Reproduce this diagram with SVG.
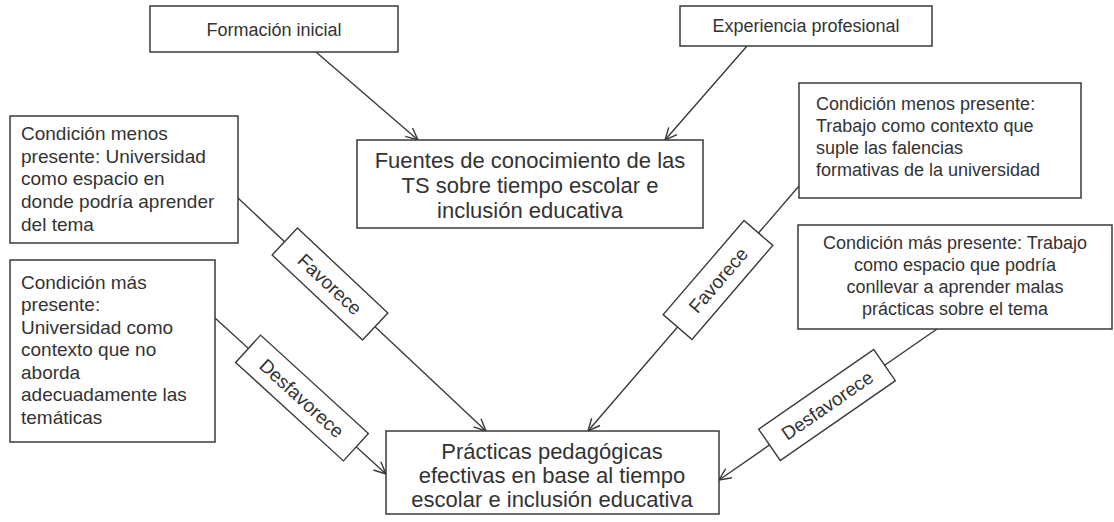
<svg xmlns="http://www.w3.org/2000/svg" width="1114" height="522" viewBox="0 0 1114 522">
<style>
.box{fill:#fff;stroke:#3a3a3a;stroke-width:1.5}
.t{font-family:"Liberation Sans",Arial,sans-serif;fill:#333}
.s{font-size:19px}
.r{font-size:18px}
.h{font-size:18px}
.m{font-size:22px}
.l{font-size:19px}
.c{text-anchor:middle}
.edge{stroke:#3a3a3a;stroke-width:1.4;fill:none}
.lab{fill:#fff;stroke:#3a3a3a;stroke-width:1.4}
</style>
<defs>
<marker id="arr" viewBox="0 0 14 14" refX="13" refY="7" markerWidth="14" markerHeight="14" markerUnits="userSpaceOnUse" orient="auto">
<path d="M1,1.5 L13,7 L1,12.5" fill="none" stroke="#3a3a3a" stroke-width="1.4"/>
</marker>
</defs>
<rect width="1114" height="522" fill="#fff"/>

<g id="connectors">
  <g id="e1"><line class="edge" x1="316" y1="52" x2="418" y2="140" marker-end="url(#arr)"/></g>
  <g id="e2"><line class="edge" x1="747" y1="46" x2="665" y2="140" marker-end="url(#arr)"/></g>
  <g id="e3">
    <line class="edge" x1="238" y1="198" x2="486" y2="431" marker-end="url(#arr)"/>
    <g transform="translate(330,284) rotate(43.2)">
      <rect class="lab" x="-62" y="-18.5" width="124" height="37"/>
      <text class="t l c" x="0" y="7">Favorece</text>
    </g>
  </g>
  <g id="e4">
    <line class="edge" x1="215" y1="318" x2="386" y2="474" marker-end="url(#arr)"/>
    <g transform="translate(302,398) rotate(42.4)">
      <rect class="lab" x="-73" y="-18.5" width="146" height="37"/>
      <text class="t l c" x="0" y="7">Desfavorece</text>
    </g>
  </g>
  <g id="e5">
    <line class="edge" x1="799" y1="186" x2="588" y2="431" marker-end="url(#arr)"/>
    <g transform="translate(718,280) rotate(-49.3)">
      <rect class="lab" x="-62" y="-19" width="124" height="38"/>
      <text class="t l c" x="0" y="7">Favorece</text>
    </g>
  </g>
  <g id="e6">
    <line class="edge" x1="937" y1="329" x2="719" y2="480" marker-end="url(#arr)"/>
    <g transform="translate(827,405) rotate(-34.7)">
      <rect class="lab" x="-70" y="-19" width="140" height="38"/>
      <text class="t l c" x="0" y="7">Desfavorece</text>
    </g>
  </g>
</g>

<g id="formacion">
  <rect class="box" x="150" y="6" width="248" height="46"/>
  <text class="t h c" x="274" y="35.5">Formación inicial</text>
</g>
<g id="experiencia">
  <rect class="box" x="680" y="6" width="252" height="40"/>
  <text class="t h c" x="806" y="32">Experiencia profesional</text>
</g>
<g id="fuentes">
  <rect class="box" x="357" y="140" width="346" height="88"/>
  <text class="t m c" x="530" y="168">Fuentes de conocimiento de las</text>
  <text class="t m c" x="530" y="193">TS sobre tiempo escolar e</text>
  <text class="t m c" x="530" y="218">inclusión educativa</text>
</g>
<g id="cond-univ-menos">
  <rect class="box" x="10" y="116" width="228" height="127"/>
  <text class="t s" x="21" y="140">Condición menos</text>
  <text class="t s" x="21" y="163">presente: Universidad</text>
  <text class="t s" x="21" y="185">como espacio en</text>
  <text class="t s" x="21" y="208">donde podría aprender</text>
  <text class="t s" x="21" y="231">del tema</text>
</g>
<g id="cond-univ-mas">
  <rect class="box" x="10" y="260" width="205" height="182"/>
  <text class="t s" x="21" y="289">Condición más</text>
  <text class="t s" x="21" y="311">presente:</text>
  <text class="t s" x="21" y="334">Universidad como</text>
  <text class="t s" x="21" y="356">contexto que no</text>
  <text class="t s" x="21" y="379">aborda</text>
  <text class="t s" x="21" y="401">adecuadamente las</text>
  <text class="t s" x="21" y="424">temáticas</text>
</g>
<g id="cond-trab-menos">
  <rect class="box" x="799" y="83" width="282" height="115"/>
  <text class="t r" x="816" y="110">Condición menos presente:</text>
  <text class="t r" x="816" y="132">Trabajo como contexto que</text>
  <text class="t r" x="816" y="154">suple las falencias</text>
  <text class="t r" x="816" y="176">formativas de la universidad</text>
</g>
<g id="cond-trab-mas">
  <rect class="box" x="798" y="225" width="314" height="104"/>
  <text class="t r c" x="955" y="249">Condición más presente: Trabajo</text>
  <text class="t r c" x="955" y="271">como espacio que podría</text>
  <text class="t r c" x="955" y="293">conllevar a aprender malas</text>
  <text class="t r c" x="955" y="315">prácticas sobre el tema</text>
</g>
<g id="practicas">
  <rect class="box" x="386" y="431" width="333" height="83"/>
  <text class="t m c" x="552" y="459">Prácticas pedagógicas</text>
  <text class="t m c" x="552" y="483">efectivas en base al tiempo</text>
  <text class="t m c" x="552" y="507">escolar e inclusión educativa</text>
</g>
</svg>
